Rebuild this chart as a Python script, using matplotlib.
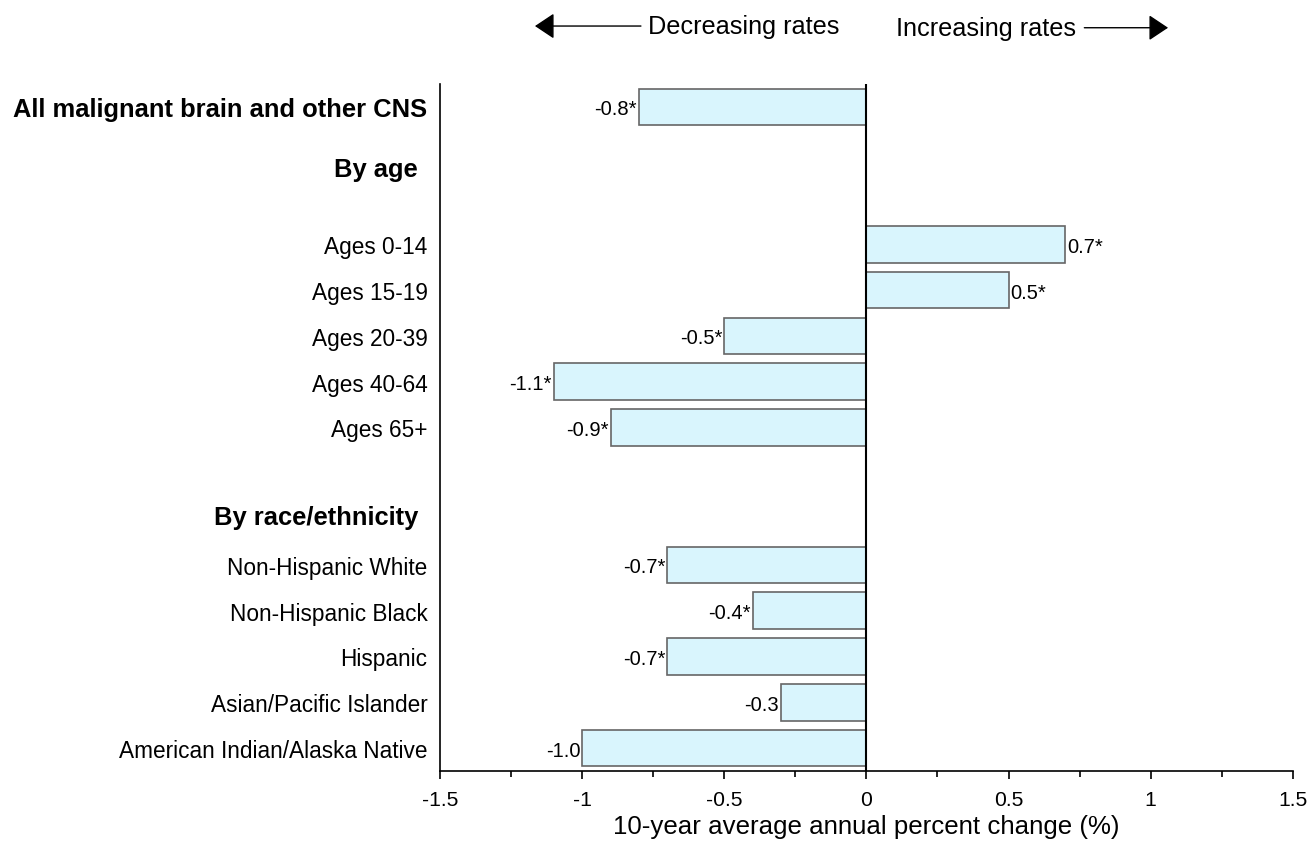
import numpy as np
import matplotlib.pyplot as plt
from matplotlib.ticker import MultipleLocator

plt.rcParams['font.family'] = ['Liberation Sans', 'DejaVu Sans']

# rows of the chart, top to bottom
labels = ['All malignant brain and other CNS',
          'Ages 0-14', 'Ages 15-19', 'Ages 20-39', 'Ages 40-64', 'Ages 65+',
          'Non-Hispanic White', 'Non-Hispanic Black', 'Hispanic',
          'Asian/Pacific Islander', 'American Indian/Alaska Native']
apc = [-0.8, 0.7, 0.5, -0.5, -1.1, -0.9, -0.7, -0.4, -0.7, -0.3, -1.0]
value_text = ['-0.8*', '0.7*', '0.5*', '-0.5*', '-1.1*', '-0.9*',
              '-0.7*', '-0.4*', '-0.7*', '-0.3', '-1.0']
rows = [0, 3, 4, 5, 6, 7, 10, 11, 12, 13, 14]
headers = ['By age', 'By race/ethnicity']
header_rows = [1.35, 8.95]


def main():
    fig = plt.figure(figsize=(13.08, 8.45), dpi=100)
    ax = fig.add_axes([0.3364, 0.0864, 0.652, 0.813])

    ax.barh(rows, apc, height=0.8, color='#d9f5fd', edgecolor='#666666',
            linewidth=1.2, zorder=2)
    ax.axvline(0, color='black', linewidth=1.5, zorder=3)

    for r, v, s in zip(rows, apc, value_text):
        if v < 0:
            ax.text(v - 0.007, r, s, ha='right', va='center_baseline', fontsize=14.5)
        else:
            ax.text(v + 0.007, r, s, ha='left', va='center_baseline', fontsize=14.5)

    ax.set_yticks(rows)
    ax.set_yticklabels(labels, fontsize=16.3)
    ax.get_yticklabels()[0].set_fontweight('bold')
    ax.get_yticklabels()[0].set_fontsize(18.4)
    ax.tick_params(axis='y', length=0, pad=9)

    for h, r in zip(headers, header_rows):
        ax.text(-0.026, r, h, transform=ax.get_yaxis_transform(),
                ha='right', va='center', fontsize=18.4, fontweight='bold')

    ax.set_xlim(-1.5, 1.5)
    ax.set_ylim(14.5, -0.5)
    ax.xaxis.set_minor_locator(MultipleLocator(0.25))
    ax.set_xticks([-1.5, -1, -0.5, 0, 0.5, 1, 1.5])
    ax.set_xticklabels(['-1.5', '-1', '-0.5', '0', '0.5', '1', '1.5'], fontsize=15.2)
    ax.tick_params(axis='x', which='major', direction='out', length=6, width=1.2, pad=8)
    ax.tick_params(axis='x', which='minor', direction='out', length=4, width=1.2)
    ax.set_xlabel('10-year average annual percent change (%)', fontsize=18.6,
                  labelpad=3)

    for side in ['top', 'right']:
        ax.spines[side].set_visible(False)
    for side in ['left', 'bottom']:
        ax.spines[side].set_linewidth(1.2)

    # direction annotations above the plot
    fig.text(0.4954, 0.968, 'Decreasing rates', ha='left', va='center', fontsize=18.2)
    fig.text(0.685, 0.966, 'Increasing rates', ha='left', va='center', fontsize=18.2)
    arrow = dict(arrowstyle='-|>,head_width=0.4,head_length=0.6',
                 mutation_scale=20, color='black', linewidth=1,
                 shrinkA=0, shrinkB=0)
    fig.add_artist(plt.Annotation('', xy=(0.409, 0.968), xytext=(0.49, 0.968),
                                  xycoords='figure fraction', arrowprops=arrow))
    fig.add_artist(plt.Annotation('', xy=(0.893, 0.966), xytext=(0.829, 0.966),
                                  xycoords='figure fraction', arrowprops=arrow))

    plt.savefig('out.png', dpi=100)


if __name__ == '__main__':
    main()
